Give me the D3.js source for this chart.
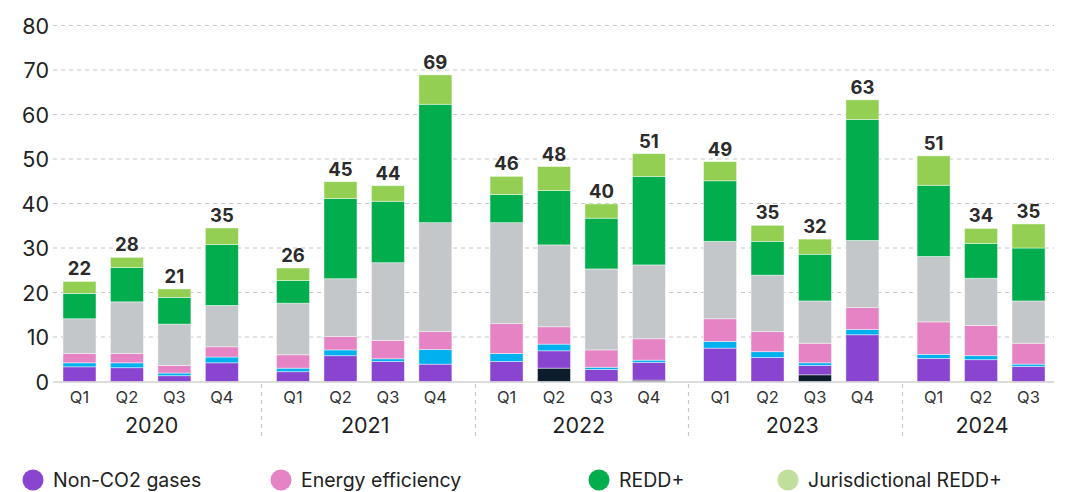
<!DOCTYPE html>
<html>
<head>
<meta charset="utf-8">
<script src="https://cdn.jsdelivr.net/npm/d3@7"></script>
<style>
  html, body { margin: 0; padding: 0; background: #ffffff; }
  svg { display: block; font-family: Inter, "Noto Sans", sans-serif; }
</style>
</head>
<body>
<svg id="chart" width="1066" height="492"></svg>
<script>
// ---- data ----
const years = ["2020", "2021", "2022", "2023", "2024"];
const quarters = ["Q1", "Q2", "Q3", "Q4"];
const periods = [
  ["2020","Q1"],["2020","Q2"],["2020","Q3"],["2020","Q4"],
  ["2021","Q1"],["2021","Q2"],["2021","Q3"],["2021","Q4"],
  ["2022","Q1"],["2022","Q2"],["2022","Q3"],["2022","Q4"],
  ["2023","Q1"],["2023","Q2"],["2023","Q3"],["2023","Q4"],
  ["2024","Q1"],["2024","Q2"],["2024","Q3"]
];
const seriesNames = ["Other (dark)", "Non-CO2 gases", "Other (cyan)", "Energy efficiency", "Other (grey)", "REDD+", "Other (light green)"];
const darkVals    = [0,0,0,0, 0,0,0,0, 0,3.0,0,0.3, 0,0,1.5,0, 0,0,0];
const nonCO2      = [3.3,3.1,1.3,4.2, 2.2,5.8,4.5,3.9, 4.5,3.9,2.7,4.0, 7.5,5.4,2.1,10.5, 5.2,4.9,3.4];
const cyanVals    = [0.9,1.1,0.6,1.3, 0.8,1.3,0.6,3.3, 1.8,1.5,0.5,0.5, 1.5,1.3,0.6,1.2, 0.9,0.9,0.5];
const energyEff   = [2.1,2.1,1.7,2.3, 3.0,3.0,4.1,4.0, 6.7,3.9,3.9,4.8, 5.1,4.5,4.4,4.9, 7.3,6.8,4.7];
const greyVals    = [7.8,11.6,9.3,9.3, 11.6,13.0,17.5,24.5, 22.7,18.4,18.2,16.6, 17.4,12.7,9.5,15.1, 14.7,10.6,9.5];
const redd        = [5.7,7.7,6.0,13.7, 5.1,18.0,13.8,26.6, 6.3,12.2,11.4,19.9, 13.6,7.6,10.5,27.2, 16.0,7.8,11.9];
const lightGreen  = [2.7,2.3,1.9,3.7, 2.8,3.8,3.5,6.6, 4.1,5.4,3.2,5.1, 4.3,3.6,3.4,4.4, 6.6,3.4,5.4];
const totalLabels = [22,28,21,35, 26,45,44,69, 46,48,40,51, 49,35,32,63, 51,34,35];
const yTicks = [0,10,20,30,40,50,60,70,80];
const legendNames = ["Non-CO2 gases", "Energy efficiency", "REDD+", "Jurisdictional REDD+"];

// ---- styles ----
const seriesColors = ["#0b1c2c", "#8944d0", "#00b0ef", "#e583c4", "#c4c7ca", "#02ad4e", "#93cf52"];
const legendColors = ["#8944d0", "#e583c4", "#02ad4e", "#c0df9b"];

const seriesData = [darkVals, nonCO2, cyanVals, energyEff, greyVals, redd, lightGreen];

// ---- build table ----
const table = periods.map((p, i) => {
  const row = { year: p[0], q: p[1], i: i, total: totalLabels[i] };
  seriesNames.forEach((s, k) => row[s] = seriesData[k][i]);
  return row;
});

// position index with gaps between years
function posIndex(d) {
  const g = years.indexOf(d.year);
  return g * 4.5 + quarters.indexOf(d.q);
}

const svg = d3.select("#chart");
const x = d3.scaleLinear().domain([0, 20]).range([79.5, 1028.5]);
const y = d3.scaleLinear().domain([0, 80]).range([381.5, 25.5]);
const barW = 33;
const plotL = 53, plotR = 1054;

// gridlines
svg.append("g").selectAll("line")
  .data(yTicks.filter(t => t > 0))
  .join("line")
  .attr("x1", plotL).attr("x2", plotR)
  .attr("y1", d => y(d)).attr("y2", d => y(d))
  .attr("stroke", "#c6c6c6").attr("stroke-width", 1)
  .attr("stroke-dasharray", "4,4");

// y axis labels
const yAxis = d3.axisLeft(y).tickValues(yTicks).tickSize(0).tickPadding(0);
const yg = svg.append("g").attr("transform", "translate(49,0)").call(yAxis);
yg.select(".domain").remove();
yg.selectAll("text")
  .attr("font-size", 21.5).attr("fill", "#222").attr("font-family", "Inter, sans-serif")
  .attr("dy", "0.36em");

// stacks
const stack = d3.stack().keys(seriesNames);
const layers = stack(table);

svg.append("g").selectAll("g")
  .data(layers)
  .join("g")
  .attr("fill", (d, k) => seriesColors[k])
  .selectAll("rect")
  .data(d => d.filter(s => s[1] - s[0] > 0))
  .join("rect")
  .attr("x", s => x(posIndex(s.data)) - barW / 2)
  .attr("width", barW)
  .attr("y", s => y(s[1]))
  .attr("height", s => y(s[0]) - y(s[1]))
  .attr("stroke", "rgba(255,255,255,0.55)")
  .attr("stroke-width", 0.8);

// baseline
svg.append("line")
  .attr("x1", plotL).attr("x2", plotR)
  .attr("y1", y(0) + 0.5).attr("y2", y(0) + 0.5)
  .attr("stroke", "#b9b9b9").attr("stroke-width", 1.2);

// totals
svg.append("g").selectAll("text")
  .data(table)
  .join("text")
  .attr("x", d => x(posIndex(d)))
  .attr("y", d => y(d3.sum(seriesNames, s => d[s])) - 6)
  .attr("text-anchor", "middle")
  .attr("font-size", 18.5).attr("font-weight", 700).attr("fill", "#2b2b2b")
  .text(d => d.total);

// quarter labels
svg.append("g").selectAll("text")
  .data(table)
  .join("text")
  .attr("x", d => x(posIndex(d)))
  .attr("y", 403)
  .attr("text-anchor", "middle")
  .attr("font-size", 16.5).attr("fill", "#333")
  .text(d => d.q);

// year labels
svg.append("g").selectAll("text")
  .data(years)
  .join("text")
  .attr("x", (yr, g) => {
    const n = table.filter(d => d.year === yr);
    return d3.mean(n, d => x(posIndex(d))) + 1;
  })
  .attr("y", 433)
  .attr("text-anchor", "middle")
  .attr("font-size", 21.5).attr("fill", "#1f1f1f")
  .text(d => d);

// year separators
svg.append("g").selectAll("line")
  .data(years.slice(1))
  .join("line")
  .attr("x1", (yr) => Math.round(x(years.indexOf(yr) * 4.5 - 0.67)) + 0.5)
  .attr("x2", (yr) => Math.round(x(years.indexOf(yr) * 4.5 - 0.67)) + 0.5)
  .attr("y1", 384).attr("y2", 436)
  .attr("stroke", "#c8c8c8").attr("stroke-width", 1.2)
  .attr("stroke-dasharray", "4,4");

// legend
const legendX = [33, 281, 599, 788];
const lg = svg.append("g").selectAll("g")
  .data(legendNames)
  .join("g")
  .attr("transform", (d, i) => `translate(${legendX[i]},480)`);
lg.append("circle").attr("r", 10.5).attr("fill", (d, i) => legendColors[i]);
lg.append("text")
  .attr("x", 20).attr("y", 0).attr("dy", "0.35em")
  .attr("font-size", 19.5).attr("fill", "#222")
  .text(d => d);
</script>
</body>
</html>
